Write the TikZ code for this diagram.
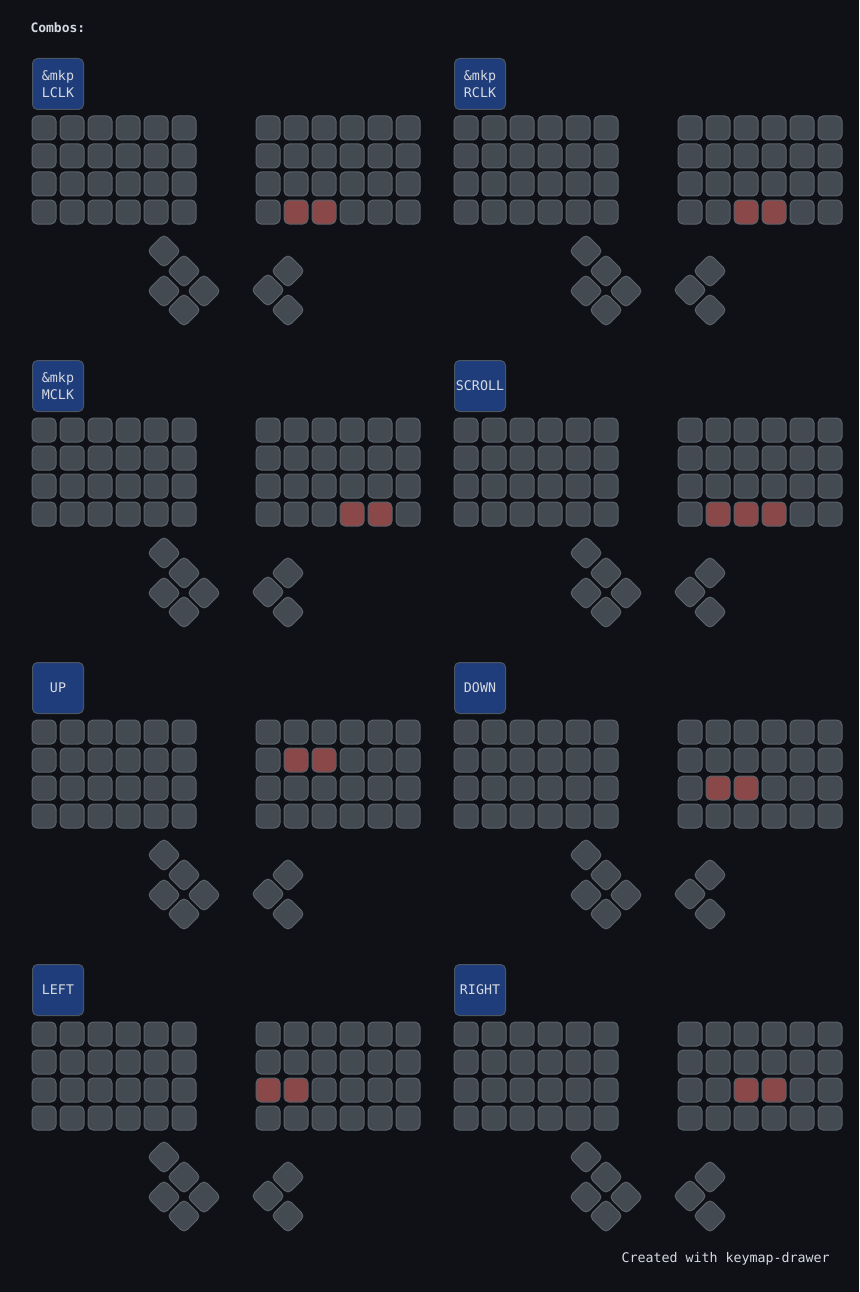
\documentclass[tikz,border=0pt]{standalone}
\usepackage{fontspec}
\newfontfamily\kbfont{DejaVu Sans Mono}
\usepackage{tikz}
\definecolor{kbbg}{HTML}{0F1117}
\definecolor{keyfill}{HTML}{434A52}
\definecolor{keyline}{HTML}{5B626A}
\definecolor{keyhot}{HTML}{8A4848}
\definecolor{combofill}{HTML}{1F3D7A}
\definecolor{comboline}{HTML}{4C5562}
\definecolor{kbtext}{HTML}{D6DAE0}

\begin{document}
\begin{tikzpicture}[x=1pt,y=-1pt,line width=1pt,
  font=\kbfont\fontsize{13.3}{17}\selectfont,
  key/.style={draw=keyline,fill=keyfill,rounded corners=5pt,minimum size=24pt,inner sep=0pt},
  hot/.style={key,fill=keyhot},
  thumb/.style={key,rotate=45},
  combo/.style={draw=comboline,fill=combofill,text=kbtext,rounded corners=5pt,minimum size=51pt,inner sep=0pt,align=center}]
\fill[kbbg] (0,0) rectangle (859,1292);
\node[anchor=west,inner sep=0pt,text=kbtext,font=\kbfont\bfseries\fontsize{13}{15}\selectfont] (title) at (30,28) {Combos:};
\foreach \ox/\oy/\lbl/\hr/\hc [count=\i] in {
  0/0/{\&mkp\\LCLK}/3/{1,2},
  422/0/{\&mkp\\RCLK}/3/{2,3},
  0/302/{\&mkp\\MCLK}/3/{3,4},
  422/302/SCROLL/3/{1,2,3},
  0/604/UP/1/{1,2},
  422/604/DOWN/2/{1,2},
  0/906/LEFT/2/{0,1},
  422/906/RIGHT/2/{2,3}}{
  \begin{scope}[shift={(\ox,\oy)}]
  \node[combo] (b\i-combo) at (58,84) {\lbl};
  \foreach \c in \hc {\expandafter\gdef\csname hot\i-\hr\c\endcsname{}}
  \foreach \r in {0,...,3}{
    \foreach \c in {0,...,5}{
      \node[key] (b\i-l\r\c) at (44+28*\c,128+28*\r) {};
      \ifcsname hot\i-\r\c\endcsname\def\kst{hot}\else\def\kst{key}\fi
      \node[\kst] (b\i-r\r\c) at (268+28*\c,128+28*\r) {};
    }
  }
  \foreach \tx/\ty [count=\k] in {164/251,184/271,164/291,204/291,184/310}
    \node[thumb] (b\i-tl\k) at (\tx,\ty) {};
  \foreach \tx/\ty [count=\k] in {288/271,268/290,288/310}
    \node[thumb] (b\i-tr\k) at (\tx,\ty) {};
  \end{scope}
}
\node[anchor=west,inner sep=0pt,text=kbtext] (credit) at (621,1259) {Created with keymap-drawer};
\end{tikzpicture}
\end{document}
